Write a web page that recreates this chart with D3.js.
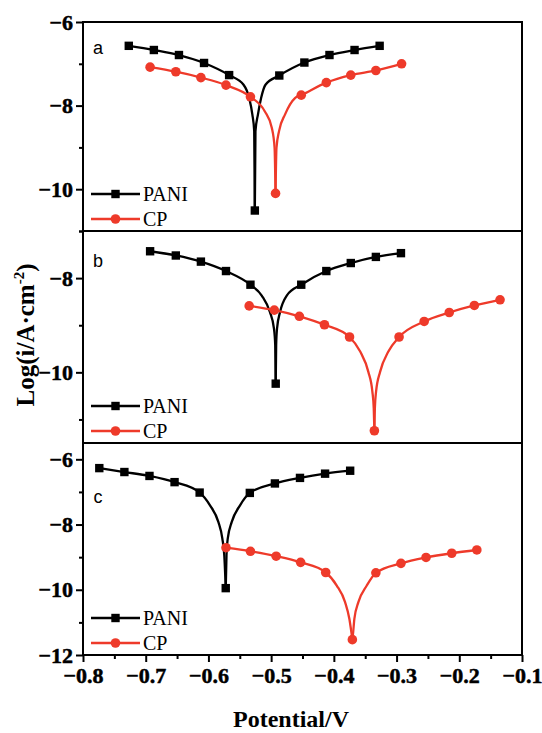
<!DOCTYPE html>
<html>
<head>
<meta charset="utf-8">
<script src="https://cdn.jsdelivr.net/npm/d3@7"></script>
<style>
  body { margin: 0; background: #fff; }
  text { fill: #000; }
</style>
</head>
<body>
<svg id="chart" width="542" height="733"></svg>
<script>
// x axis ticks (V)
const potentialTicks = [-0.8, -0.7, -0.6, -0.5, -0.4, -0.3, -0.2, -0.1];
const potentialMinor = [-0.75, -0.65, -0.55, -0.45, -0.35, -0.25, -0.15];

// panel a
const aPaniV = [-0.727, -0.687, -0.647, -0.607, -0.567, -0.526, -0.487, -0.447, -0.407, -0.367, -0.327];
const aPaniLog = [-6.57, -6.67, -6.79, -6.98, -7.27, -10.51, -7.28, -6.97, -6.79, -6.67, -6.57];
const aPaniDipL = [[-0.544, -7.50], [-0.535, -7.82], [-0.530, -8.21], [-0.527, -8.61]];
const aPaniDipR = [[-0.525, -8.61], [-0.521, -8.21], [-0.516, -7.82], [-0.509, -7.50]];
const aCpV = [-0.693, -0.652, -0.612, -0.572, -0.533, -0.493, -0.452, -0.412, -0.373, -0.333, -0.292];
const aCpLog = [-7.08, -7.19, -7.33, -7.51, -7.79, -10.10, -7.75, -7.45, -7.27, -7.16, -7.00];
const aCpDipL = [[-0.510, -8.14], [-0.499, -8.53], [-0.4945, -9.01]];
const aCpDipR = [[-0.4915, -9.01], [-0.4874, -8.61], [-0.4778, -8.21], [-0.462, -7.82]];

// panel b
const bPaniV = [-0.693, -0.652, -0.612, -0.572, -0.533, -0.4927, -0.452, -0.412, -0.373, -0.333, -0.293];
const bPaniLog = [-7.43, -7.52, -7.65, -7.85, -8.14, -10.24, -8.14, -7.85, -7.68, -7.55, -7.47];
const bPaniDipL = [[-0.515, -8.37], [-0.502, -8.72], [-0.4955, -9.07], [-0.4935, -9.42]];
const bPaniDipR = [[-0.492, -9.42], [-0.4906, -9.07], [-0.4858, -8.72], [-0.4751, -8.37]];
const bCpV = [-0.535, -0.495, -0.455, -0.415, -0.375, -0.3354, -0.296, -0.256, -0.216, -0.176, -0.135];
const bCpLog = [-8.59, -8.68, -8.81, -8.99, -9.25, -11.24, -9.25, -8.92, -8.73, -8.58, -8.46];
const bCpDipL = [[-0.358, -9.56], [-0.345, -9.99], [-0.3386, -10.41], [-0.3364, -10.76]];
const bCpDipR = [[-0.3346, -10.76], [-0.3327, -10.41], [-0.3263, -9.99], [-0.3131, -9.56]];

// panel c
const cPaniV = [-0.774, -0.734, -0.694, -0.654, -0.614, -0.5724, -0.534, -0.494, -0.454, -0.414, -0.374];
const cPaniLog = [-6.27, -6.39, -6.51, -6.70, -7.02, -9.95, -7.03, -6.74, -6.57, -6.44, -6.35];
const cPaniDipL = [[-0.5975, -7.41], [-0.5842, -7.92], [-0.5778, -8.43], [-0.5747, -8.95]];
const cPaniDipR = [[-0.5712, -8.95], [-0.5692, -8.43], [-0.5628, -7.92], [-0.5496, -7.41]];
const cCpV = [-0.572, -0.533, -0.492, -0.453, -0.413, -0.3705, -0.333, -0.293, -0.253, -0.212, -0.172];
const cCpLog = [-8.71, -8.82, -8.97, -9.16, -9.47, -11.53, -9.48, -9.19, -9.01, -8.88, -8.78];
const cCpDipL = [[-0.3954, -9.87], [-0.3821, -10.38], [-0.3753, -10.89], [-0.3721, -11.30]];
const cCpDipR = [[-0.3692, -11.30], [-0.3673, -10.89], [-0.3609, -10.38], [-0.3475, -9.87]];

const seriesNames = ["PANI", "CP"];
const seriesColors = ["#000000", "#ee3a2a"];

const panels = [
  { label: "a", top: 22, bottom: 231, domain: [-11, -6], major: [-10, -8, -6], minor: [-11, -9, -7], labelY: 48,
    series: [[aPaniV, aPaniLog, aPaniDipL, aPaniDipR], [aCpV, aCpLog, aCpDipL, aCpDipR]] },
  { label: "b", top: 231, bottom: 443, domain: [-11.5, -7], major: [-10, -8], minor: [-11, -9, -7], labelY: 261,
    series: [[bPaniV, bPaniLog, bPaniDipL, bPaniDipR], [bCpV, bCpLog, bCpDipL, bCpDipR]] },
  { label: "c", top: 443, bottom: 655, domain: [-12, -5.5], major: [-12, -10, -8, -6], minor: [-11, -9, -7], labelY: 497,
    series: [[cPaniV, cPaniLog, cPaniDipL, cPaniDipR], [cCpV, cCpLog, cCpDipL, cCpDipR]] }
];

const left = 83, right = 522;
const serif = "'Liberation Serif', 'Times New Roman', serif";
const svg = d3.select("#chart");
const x = d3.scaleLinear().domain([-0.8, -0.1]).range([left, right]);
const minus = s => s.replace("\u2212", "-").replace("-", "\u2212");

function drawMarker(g, shape, color, cx, cy) {
  if (shape === 0) {
    g.append("rect").attr("x", cx - 4.2).attr("y", cy - 4.2).attr("width", 8.4).attr("height", 8.4).attr("fill", color);
  } else {
    g.append("circle").attr("cx", cx).attr("cy", cy).attr("r", 4.8).attr("fill", color);
  }
}

function styleAxis(a) {
  a.select(".domain").remove();
  a.selectAll("line").attr("stroke-width", 2);
  a.attr("font-family", null).attr("font-size", null);
  a.selectAll("text")
    .style("font-family", serif)
    .style("font-weight", "700")
    .style("font-size", "22px")
    .attr("fill", "#000")
    .attr("stroke", "#000")
    .attr("stroke-width", 0.5);
}

panels.forEach(p => {
  const y = d3.scaleLinear().domain(p.domain).range([p.bottom, p.top]);
  const g = svg.append("g");

  p.series.forEach((s, si) => {
    const [vs, logs, dipL, dipR] = s;
    const pts = vs.map((v, i) => [v, logs[i]]);
    const minIdx = d3.minIndex(logs);
    const leftBranch = pts.slice(0, minIdx).concat(dipL, [pts[minIdx]]);
    const rightBranch = [pts[minIdx]].concat(dipR, pts.slice(minIdx + 1));
    const line = d3.line().x(d => x(d[0])).y(d => y(d[1])).curve(d3.curveMonotoneX);
    [leftBranch, rightBranch].forEach(br => {
      g.append("path").attr("d", line(br)).attr("fill", "none")
        .attr("stroke", seriesColors[si]).attr("stroke-width", 2.3).attr("stroke-linejoin", "round");
    });
    pts.forEach(d => drawMarker(g, si, seriesColors[si], x(d[0]), y(d[1])));
  });

  // legend
  seriesNames.forEach((name, si) => {
    const ly = p.bottom - 37 + si * 25;
    g.append("line").attr("x1", 91).attr("x2", 140).attr("y1", ly).attr("y2", ly)
      .attr("stroke", seriesColors[si]).attr("stroke-width", 2.3);
    drawMarker(g, si, seriesColors[si], 115.5, ly);
    g.append("text").attr("x", 143).attr("y", ly + 7)
      .style("font-family", serif).style("font-size", "20px")
      .text(name);
  });

  // panel letter
  g.append("text").attr("x", 98).attr("y", p.labelY + 6).attr("text-anchor", "middle")
    .style("font-family", "'Liberation Sans', Arial, sans-serif").style("font-size", "18px")
    .text(p.label);

  // frame
  g.append("rect").attr("x", left).attr("y", p.top).attr("width", right - left).attr("height", p.bottom - p.top)
    .attr("fill", "none").attr("stroke", "#000").attr("stroke-width", 2);

  // y axes
  styleAxis(g.append("g").attr("transform", `translate(${left},0)`)
    .call(d3.axisLeft(y).tickValues(p.major).tickSize(7).tickPadding(3).tickFormat(d => minus(String(d)))));
  styleAxis(g.append("g").attr("transform", `translate(${left},0)`)
    .call(d3.axisLeft(y).tickValues(p.minor).tickSize(4).tickFormat("")));
});

// x axis
styleAxis(svg.append("g").attr("transform", "translate(0,655)")
  .call(d3.axisBottom(x).tickValues(potentialTicks).tickSize(7).tickPadding(5)
    .tickFormat(d => minus(d3.format(".1f")(d)))));
styleAxis(svg.append("g").attr("transform", "translate(0,655)")
  .call(d3.axisBottom(x).tickValues(potentialMinor).tickSize(4).tickFormat("")));

// axis titles
svg.append("text").attr("x", 291).attr("y", 727).attr("text-anchor", "middle")
  .style("font-family", serif).style("font-weight", "700").style("font-size", "24px")
  .text("Potential/V");

const yTitle = svg.append("text").attr("transform", "translate(34,335) rotate(-90)").attr("text-anchor", "middle")
  .style("font-family", serif).style("font-weight", "700").style("font-size", "25px");
yTitle.append("tspan").text("Log(i/A\u00b7cm");
yTitle.append("tspan").attr("dy", -10).style("font-size", "15px").text("-2");
yTitle.append("tspan").attr("dy", 10).text(")");
</script>
</body>
</html>
